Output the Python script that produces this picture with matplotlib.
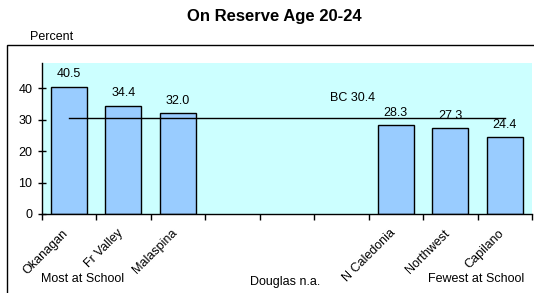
import matplotlib.pyplot as plt
from matplotlib.patches import Rectangle
import numpy as np

plt.rcParams['font.family'] = ['Liberation Sans', 'DejaVu Sans']

# slots along the x axis (empty slots have no bar)
regions = ["Okanagan", "Fr Valley", "Malaspina", "", "", "",
           "N Caledonia", "Northwest", "Capilano"]
values = [40.5, 34.4, 32.0, None, None, None, 28.3, 27.3, 24.4]
bc_value = 30.4

fig = plt.figure(figsize=(5.34, 2.93), dpi=100)

# outer frame of the chart
fig.patches.append(Rectangle((7 / 534, -0.01), 1.0, 1 - 45 / 293 + 0.01,
                             transform=fig.transFigure, fill=False,
                             edgecolor='black', linewidth=1.0))

ax = fig.add_axes([41.5 / 534, 1 - 214 / 293, (532 - 41.5) / 534, (214 - 63) / 293])
ax.set_facecolor('#CCFFFF')

x = np.arange(len(regions))
for xi, v in zip(x, values):
    if v is None:
        continue
    ax.bar(xi, v, width=0.66, color='#99CCFF', edgecolor='black', linewidth=1.0, zorder=2)
    ax.text(xi, v + 2.0, f"{v:.1f}", ha='center', va='bottom', fontsize=9, zorder=4)

ax.plot([x[0], x[-1]], [bc_value, bc_value], color='black', linewidth=1.0, zorder=3)
ax.text(5.2, 37, f"BC {bc_value}", ha='center', va='center', fontsize=9)

ax.set_xlim(-0.5, len(regions) - 0.5)
ax.set_ylim(0, 48)
ax.set_yticks([0, 10, 20, 30, 40])
ax.tick_params(axis='y', direction='inout', length=6, labelsize=9, width=1)

ax.set_xticks(np.arange(-0.5, len(regions)), minor=False)
ax.set_xticklabels([])
ax.tick_params(axis='x', direction='out', length=4, width=1)
for xi, name in zip(x, regions):
    if name:
        ax.text(xi - 0.12, -4.2, name, rotation=45, ha='right', va='top',
                rotation_mode='anchor', fontsize=9, transform=ax.transData)

for side in ['top', 'right']:
    ax.spines[side].set_visible(False)
ax.spines['left'].set_linewidth(1)
ax.spines['bottom'].set_linewidth(1)

fig.text(274 / 534, 1 - 16 / 293, "On Reserve Age 20-24", ha='center', va='center',
         fontsize=12, fontweight='bold')
fig.text(30 / 534, 1 - 37 / 293, "Percent", ha='left', va='center', fontsize=9)
fig.text(41 / 534, 1 - 279 / 293, "Most at School", ha='left', va='center', fontsize=9)
fig.text(250 / 534, 1 - 282 / 293, "Douglas n.a.", ha='left', va='center', fontsize=9)
fig.text(428 / 534, 1 - 279 / 293, "Fewest at School", ha='left', va='center', fontsize=9)

fig.savefig("out.png", dpi=100)
